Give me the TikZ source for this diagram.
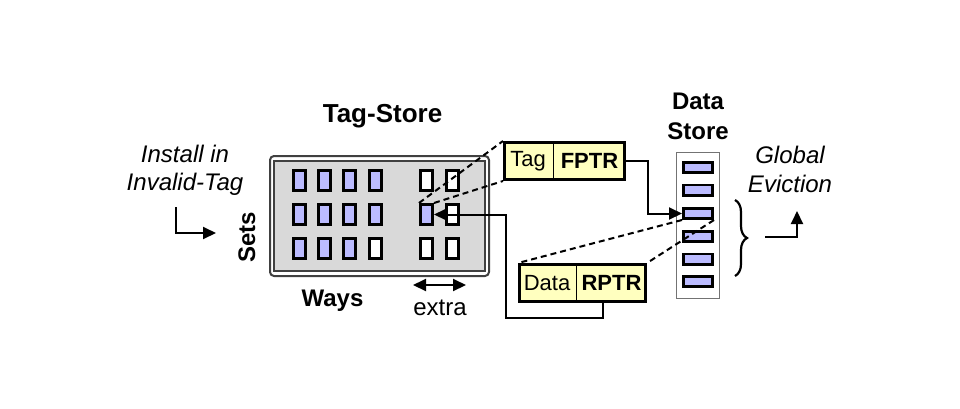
\documentclass[tikz,border=0pt]{standalone}
\usepackage{fontspec}
\setmainfont{Liberation Sans}
\usetikzlibrary{arrows.meta,decorations.pathreplacing,calc}
\definecolor{cellblue}{RGB}{187,187,255}
\definecolor{tsgray}{RGB}{217,217,217}
\definecolor{boxyellow}{RGB}{255,255,191}
\begin{document}
\begin{tikzpicture}[x=1pt,y=-1pt,
  font=\fontsize{24}{29}\selectfont,
  cell/.style={draw, line width=2.8pt, minimum width=12.2pt, minimum height=20.2pt, inner sep=0pt},
  bcell/.style={cell, fill=cellblue},
  wcell/.style={cell, fill=white},
  dcell/.style={draw, line width=2.6pt, fill=cellblue, minimum width=29.4pt, minimum height=10.4pt, inner sep=0pt},
  ybox/.style={draw, line width=2.6pt, fill=boxyellow, inner sep=0pt},
  boxtext/.style={font=\fontsize{22}{26}\selectfont, inner sep=0pt},
  arr/.style={line width=2pt, -{Triangle[length=13pt,width=12pt]}},
  dashline/.style={line width=2pt, dash pattern=on 6pt off 4pt},
  lbl/.style={inner sep=0pt, align=center}
]
\useasboundingbox (0,0) rectangle (960,408);
\fill[white] (0,0) rectangle (960,408);

% Tag store frame
\node[draw=black!75, line width=2pt, rounded corners=4pt, fill=white,
      minimum width=219pt, minimum height=120pt, inner sep=0pt] (tagstore) at (379.5,216) {};
\node[draw=black!75, line width=2pt, fill=tsgray,
      minimum width=211pt, minimum height=110pt, inner sep=0pt] (tsinner) at (379.5,216) {};

% tag cells
\node[bcell] (c11) at (299.5,180.5) {};
\node[bcell] (c12) at (324.5,180.5) {};
\node[bcell] (c13) at (349.5,180.5) {};
\node[bcell] (c14) at (375.5,180.5) {};
\node[wcell] (c15) at (426.5,180.5) {};
\node[wcell] (c16) at (452.5,180.5) {};
\node[bcell] (c21) at (299.5,214.5) {};
\node[bcell] (c22) at (324.5,214.5) {};
\node[bcell] (c23) at (349.5,214.5) {};
\node[bcell] (c24) at (375.5,214.5) {};
\node[bcell] (c25) at (426.5,214.5) {};
\node[wcell] (c26) at (452.5,214.5) {};
\node[bcell] (c31) at (299.5,248.5) {};
\node[bcell] (c32) at (324.5,248.5) {};
\node[bcell] (c33) at (349.5,248.5) {};
\node[wcell] (c34) at (375.5,248.5) {};
\node[wcell] (c35) at (426.5,248.5) {};
\node[wcell] (c36) at (452.5,248.5) {};

% labels around tag store
\node[lbl, font=\fontsize{26}{30}\selectfont\bfseries, anchor=base] (tslabel) at (382.5,122) {Tag-Store};
\node[lbl, font=\fontsize{24}{29}\selectfont\bfseries, anchor=base] (ways) at (332.5,306) {Ways};
\node[lbl, anchor=base] (extra) at (440,315) {extra};
\node[lbl, font=\fontsize{24}{29}\selectfont\bfseries, rotate=90, anchor=base] (sets) at (255,237) {Sets};

\coordinate (exA) at (413,285);
\coordinate (exB) at (466,285);
\draw[line width=2pt, {Triangle[length=13pt,width=12pt]}-{Triangle[length=13pt,width=12pt]}] (exA) -- (exB);

% data store
\node[draw=black!55, line width=1.2pt, fill=white, minimum width=43pt, minimum height=146pt, inner sep=0pt] (dstore) at (698,225.5) {};
\node[dcell] (d1) at (698,167.5) {};
\node[dcell] (d2) at (698,190.3) {};
\node[dcell] (d3) at (698,213.5) {};
\node[dcell] (d4) at (698,236.5) {};
\node[dcell] (d5) at (698,259.3) {};
\node[dcell] (d6) at (698,281.5) {};
\node[lbl, font=\fontsize{24}{30}\selectfont\bfseries] (dslabel) at (698,116) {Data\\Store};

% Tag / FPTR box
\node[ybox, minimum width=120.4pt, minimum height=37.4pt] (tagbox) at (564.5,161) {};
\draw[line width=0.9pt] (tagbox.north west) ++(50,0) -- ++(0,37.4);
\node[boxtext] (tagtxt) at (528,161) {Tag};
\node[boxtext, font=\fontsize{22}{26}\selectfont\bfseries] (fptr) at (589.5,161) {FPTR};

% Data / RPTR box
\node[ybox, minimum width=126.4pt, minimum height=37.4pt] (databox) at (582.5,283) {};
\draw[line width=0.9pt] (databox.north west) ++(58,0) -- ++(0,37.4);
\node[boxtext] (datatxt) at (547,283) {Data};
\node[boxtext, font=\fontsize{22}{26}\selectfont\bfseries] (rptr) at (611.5,283) {RPTR};

% dashed correspondences
\draw[dashline] (c25.north west) -- (tagbox.north west);
\draw[dashline] (c25.north east) -- (tagbox.south west);
\draw[dashline] (d3.south west) -- (databox.north west);
\draw[dashline] (d3.south east) -- (databox.north east);

% pointers
\draw[arr] (tagbox.east) -- ++(22,0) |- (d3.west);
\draw[arr] ($(databox.south)+(20.5,0)$) |- ++(-97,15) |- (c25.east);

% install
\node[lbl, font=\fontsize{24}{28}\selectfont\itshape] (install) at (185,170) {Install in\\Invalid-Tag};
\coordinate (instA) at (176,207);
\coordinate (instB) at (216,233);
\draw[arr] (instA) |- (instB);

% global eviction
\draw[line width=2.2pt, decorate, decoration={brace, amplitude=12pt}] (735,200) -- (735,276);
\node[lbl, font=\fontsize{24}{29}\selectfont\itshape] (geviction) at (790,169) {Global\\Eviction};
\coordinate (geA) at (765,237);
\coordinate (geB) at (797,211);
\draw[arr] (geA) -| (geB);
\end{tikzpicture}
\end{document}
